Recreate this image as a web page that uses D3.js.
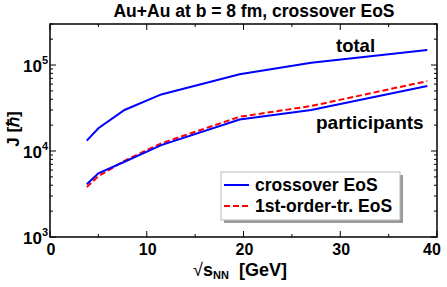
<!DOCTYPE html>
<html>
<head>
<meta charset="utf-8">
<script src="https://cdn.jsdelivr.net/npm/d3@7"></script>
<style>
  body { margin: 0; background: #fff; }
  .vis { width: 447px; height: 287px; }
  text { font-family: "Liberation Sans", Arial, sans-serif; font-weight: bold; fill: #000; }
</style>
</head>
<body>
<div class="vis"></div>
<script>
(function() {
  'use strict';

  // sqrt(s_NN) in GeV
  var energies = [3.8, 5, 7.7, 11.5, 19.6, 27, 39];
  var totalCross = [13200, 18400, 30000, 45500, 78000, 106000, 150000];
  var partCross = [4100, 5500, 7500, 11700, 23300, 30000, 57000];
  var partFirst = [3800, 5100, 7700, 12300, 25000, 33400, 65000];

  var xTicks = [0, 10, 20, 30, 40];
  var yTicks = [1e3, 1e4, 1e5];

  var el = d3.select('.vis'),
    elWidth = 447,
    elHeight = 287,
    margin = {top: 24, right: 10, bottom: 50, left: 50},
    width = elWidth - margin.left - margin.right,
    height = elHeight - margin.top - margin.bottom;

  var root = el.append('svg')
    .attr('width', elWidth)
    .attr('height', elHeight);

  var svg = root.append('g')
    .attr('transform', 'translate(' + margin.left + ',' + margin.top + ')');

  var x = d3.scaleLinear().domain([0, 40]).range([0, width]);
  var y = d3.scaleLog().domain([1e3, 3e5]).range([height, 0]);

  // minor ticks
  var xMinor = d3.range(5, 40, 10);
  var yMinor = [];
  [1e3, 1e4, 1e5].forEach(function(d) {
    for (var k = 2; k <= 9; k++) {
      if (d * k <= 3e5) yMinor.push(d * k);
    }
  });

  var ticks = svg.append('g').attr('stroke', '#000').attr('stroke-width', 1);

  // x ticks (bottom and top)
  xTicks.concat(xMinor).forEach(function(d) {
    var len = xTicks.indexOf(d) >= 0 ? 6 : 3;
    ticks.append('line').attr('x1', x(d)).attr('x2', x(d)).attr('y1', height).attr('y2', height - len);
    ticks.append('line').attr('x1', x(d)).attr('x2', x(d)).attr('y1', 0).attr('y2', len);
  });
  // y ticks (left and right)
  yTicks.concat(yMinor).forEach(function(d) {
    var len = yTicks.indexOf(d) >= 0 ? 6 : 3;
    ticks.append('line').attr('y1', y(d)).attr('y2', y(d)).attr('x1', 0).attr('x2', len);
    ticks.append('line').attr('y1', y(d)).attr('y2', y(d)).attr('x1', width).attr('x2', width - len);
  });

  // frame
  svg.append('rect')
    .attr('width', width)
    .attr('height', height)
    .attr('fill', 'none')
    .attr('stroke', '#000')
    .attr('stroke-width', 1.5);

  // x tick labels
  svg.selectAll('.xlab')
    .data(xTicks)
    .enter()
    .append('text')
      .attr('class', 'xlab')
      .attr('x', function(d) { return d === 40 ? x(d) - 5 : x(d) + 1; })
      .attr('y', height + 18)
      .attr('text-anchor', 'middle')
      .style('font-size', '16px')
      .text(function(d) { return d; });

  // y tick labels 10^n
  var ylab = svg.selectAll('.ylab')
    .data(yTicks)
    .enter()
    .append('text')
      .attr('class', 'ylab')
      .attr('x', -2)
      .attr('y', function(d) { return y(d) + 7; })
      .attr('text-anchor', 'end')
      .style('font-size', '17px');
  ylab.append('tspan').text('10');
  ylab.append('tspan')
    .attr('dy', -8)
    .style('font-size', '11px')
    .text(function(d) { return Math.round(Math.log10(d)); });

  // lines
  var line = function(vals) {
    return d3.line()
      .x(function(d, i) { return x(energies[i]); })
      .y(function(d) { return y(d); })(vals);
  };

  svg.append('path')
    .attr('d', line(totalCross))
    .attr('fill', 'none')
    .attr('stroke', '#0000ff')
    .attr('stroke-width', 2);

  svg.append('path')
    .attr('d', line(partFirst))
    .attr('fill', 'none')
    .attr('stroke', '#ff0000')
    .attr('stroke-width', 2)
    .attr('stroke-dasharray', '6,3');

  svg.append('path')
    .attr('d', line(partCross))
    .attr('fill', 'none')
    .attr('stroke', '#0000ff')
    .attr('stroke-width', 2);

  // curve labels
  svg.append('text')
    .attr('x', 286)
    .attr('y', 28)
    .style('font-size', '18.5px')
    .text('total');

  svg.append('text')
    .attr('x', 266)
    .attr('y', 105)
    .style('font-size', '19px')
    .text('participants');

  // legend
  var leg = svg.append('g').attr('transform', 'translate(171,148)');
  leg.append('rect')
    .attr('x', 3).attr('y', 3)
    .attr('width', 179).attr('height', 48)
    .attr('fill', '#999');
  leg.append('rect')
    .attr('width', 179).attr('height', 48)
    .attr('fill', '#fff')
    .attr('stroke', '#bbb')
    .attr('stroke-width', 1);

  var legItems = [
    {label: 'crossover EoS', color: '#0000ff', dash: null},
    {label: '1st-order-tr. EoS', color: '#ff0000', dash: '6,3'}
  ];
  legItems.forEach(function(d, i) {
    var yy = 13 + i * 21;
    leg.append('line')
      .attr('x1', 3).attr('x2', 28)
      .attr('y1', yy).attr('y2', yy)
      .attr('stroke', d.color)
      .attr('stroke-width', 2)
      .attr('stroke-dasharray', d.dash);
    leg.append('text')
      .attr('x', 34)
      .attr('y', yy + 6)
      .style('font-size', '17.5px')
      .text(d.label);
  });

  // title
  root.append('text')
    .attr('x', 254)
    .attr('y', 17)
    .attr('text-anchor', 'middle')
    .style('font-size', '17.5px')
    .text('Au+Au at b = 8 fm, crossover EoS');

  // y axis label
  root.append('text')
    .attr('transform', 'translate(19,129) rotate(-90)')
    .attr('text-anchor', 'middle')
    .style('font-size', '17px')
    .text('J [\u210F]');

  // x axis label
  var xl = root.append('text')
    .attr('x', 240)
    .attr('y', 276)
    .attr('text-anchor', 'middle')
    .style('font-size', '18px');
  xl.append('tspan').style('font-weight', 'normal').text('\u221A');
  xl.append('tspan').text('s');
  xl.append('tspan').attr('dy', 3).style('font-size', '11px').text('NN');
  xl.append('tspan').attr('dy', -3).attr('dx', 10).text('[GeV]');
}());
</script>
</body>
</html>
